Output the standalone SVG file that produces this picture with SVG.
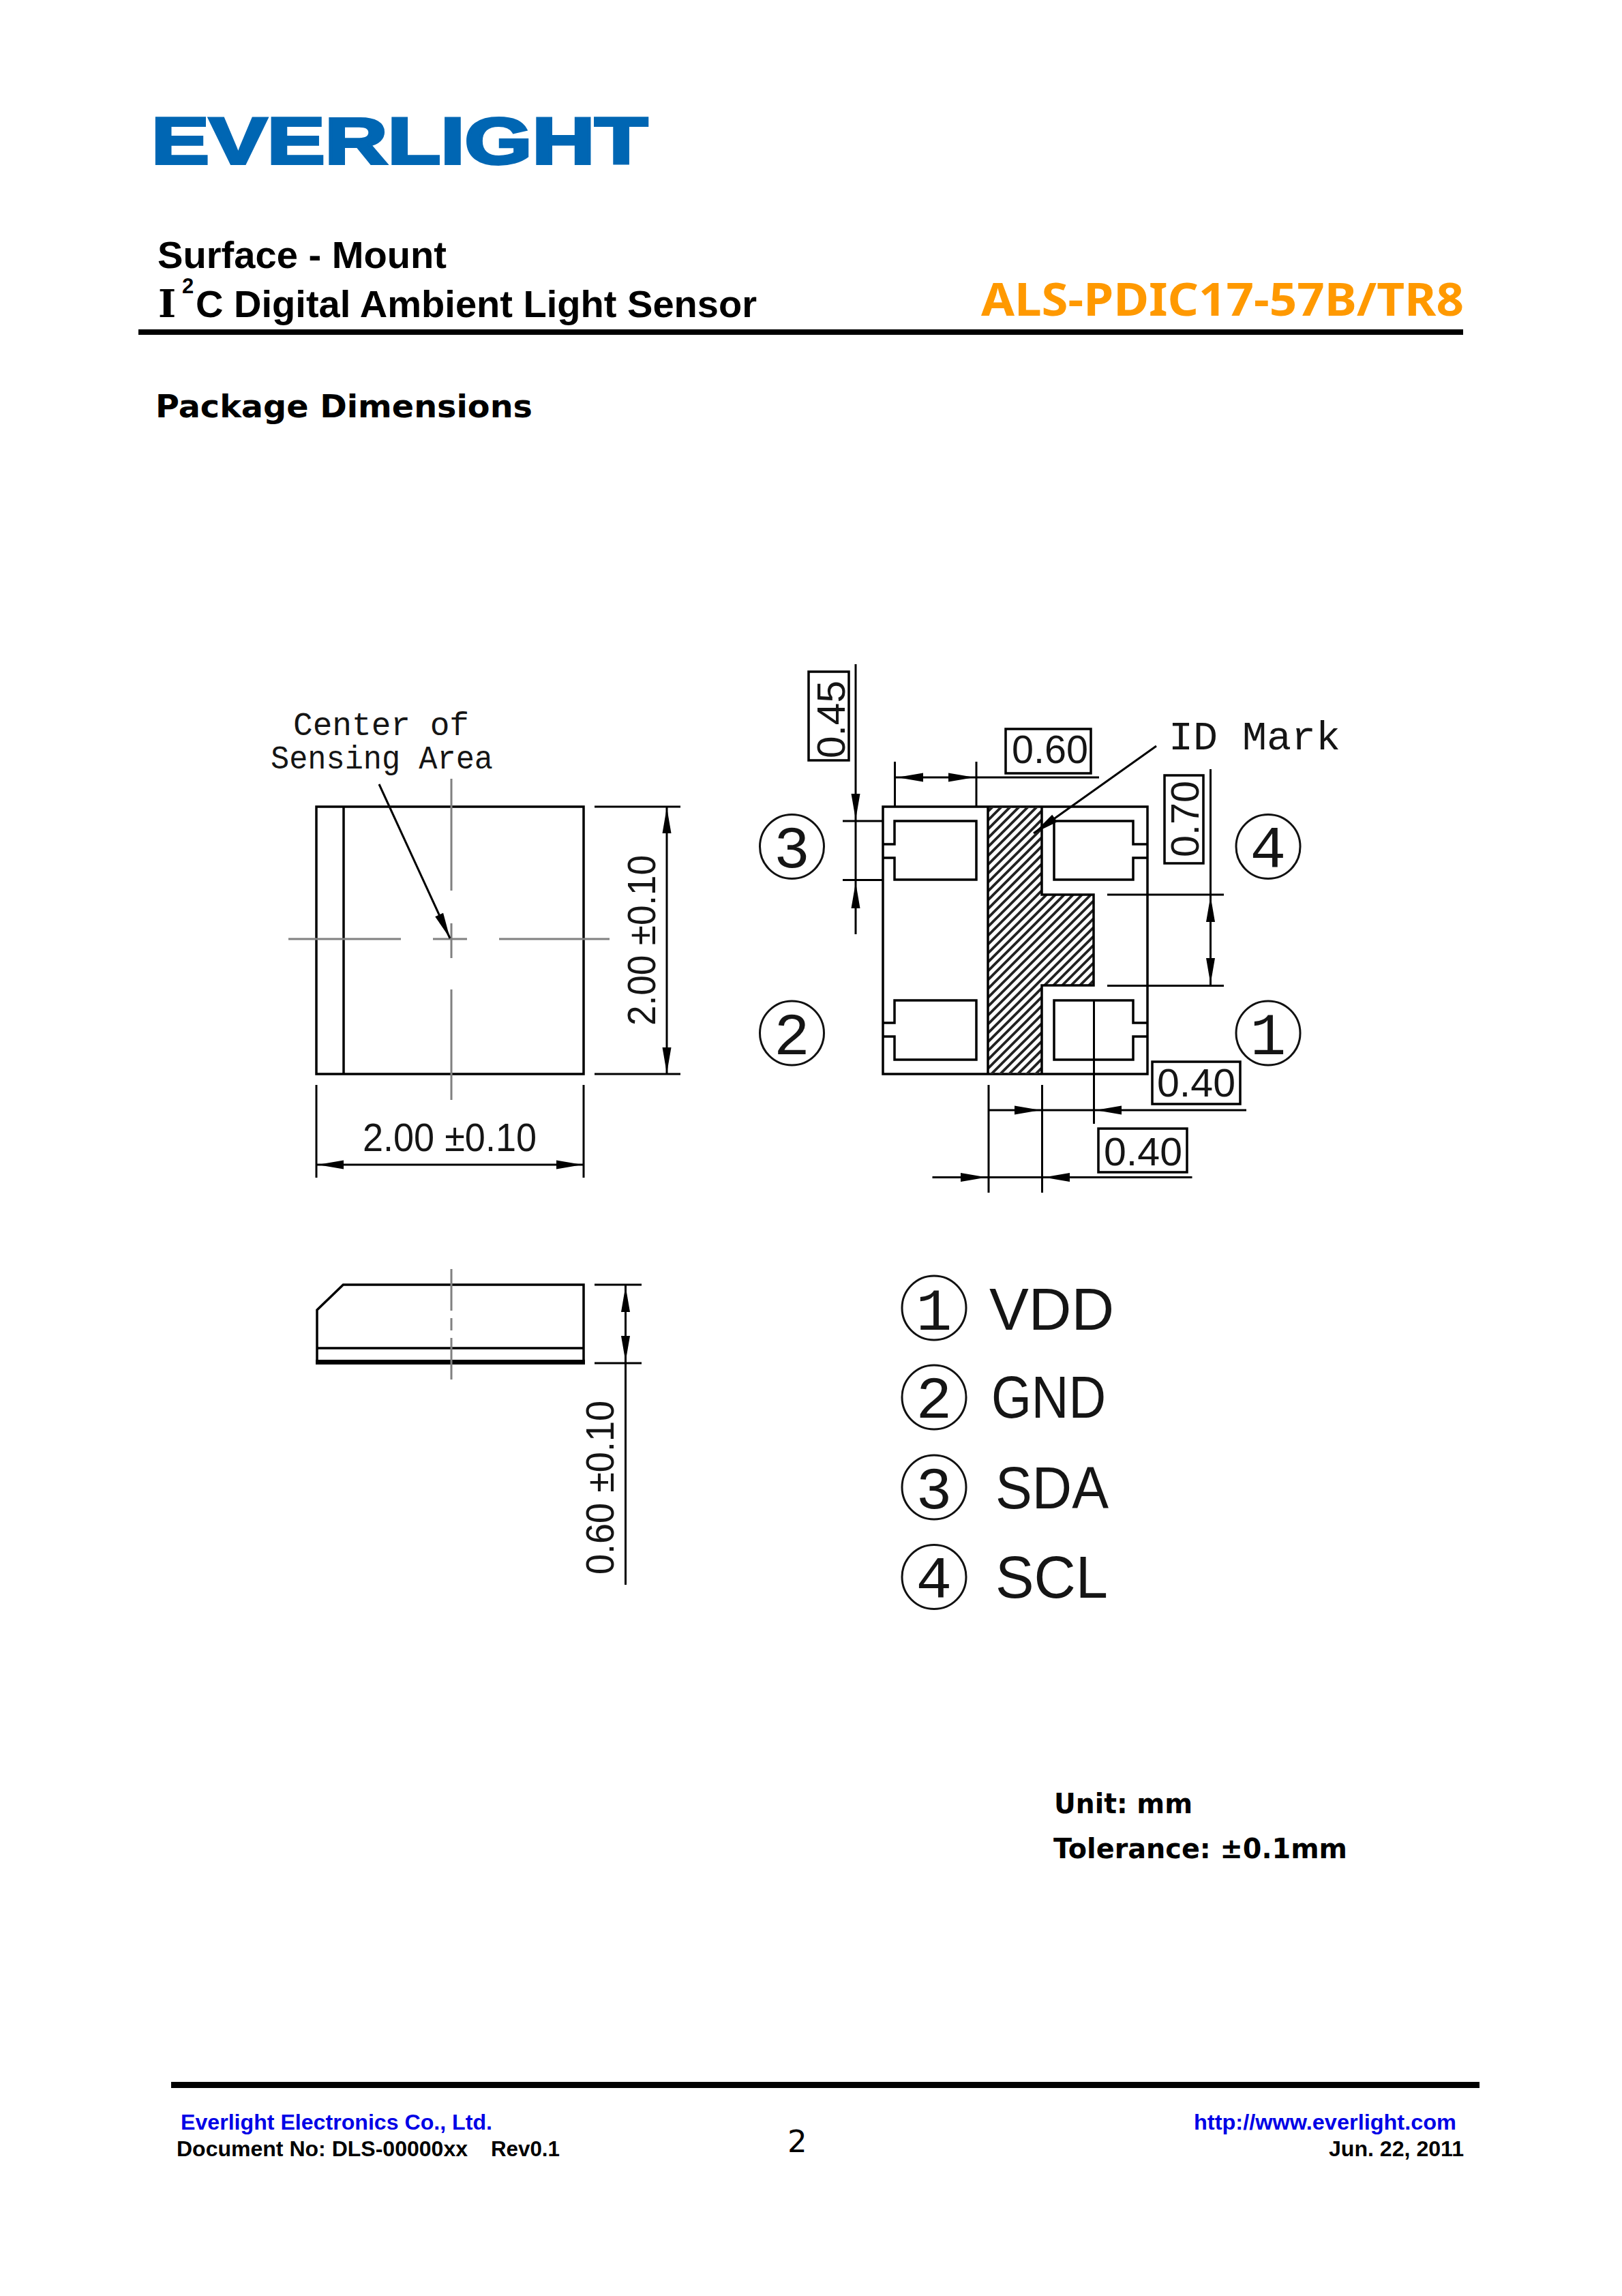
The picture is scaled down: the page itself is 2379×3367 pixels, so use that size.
<svg xmlns="http://www.w3.org/2000/svg" xmlns:xlink="http://www.w3.org/1999/xlink" width="2379" height="3367" viewBox="0 0 2379 3367">
<style>
.h{font-family:"Liberation Sans",Arial,sans-serif;font-weight:700;fill:#000}
.v{font-family:"DejaVu Sans",Verdana,sans-serif;font-weight:700;fill:#000}
.cad{font-family:"Liberation Mono","Courier New",monospace;fill:#151515}
.d{font-family:"Liberation Sans",Arial,sans-serif;font-size:58px;fill:#151515}
.l{font-family:"Liberation Sans",Arial,sans-serif;font-size:88px;fill:#151515}
.blue{fill:#0000e6}
.o{fill:none;stroke:#000;stroke-width:3.5}
.t{fill:none;stroke:#000;stroke-width:3}
.c{fill:none;stroke:#808080;stroke-width:3}
.ring{fill:#fff;stroke:#111;stroke-width:3}
.n{font-size:88px;text-anchor:middle}
.box{fill:#fff;stroke:#000;stroke-width:3.5}
</style>
<defs>
<polygon id="ah" points="0,0 -38,-6.5 -38,6.5" fill="#000"/>
<pattern id="hatch" patternUnits="userSpaceOnUse" width="13" height="13">
<path d="M-3,16 L16,-3 M-3,3 L3,-3 M10,16 L16,10" stroke="#222" stroke-width="3.8" fill="none"/>
</pattern>
</defs>
<rect width="2379" height="3367" fill="#fff"/>

<g id="header">
<text id="logo" x="222" y="240" font-family="Liberation Sans, Arial, sans-serif" font-weight="700" font-size="96" fill="#0066b3" stroke="#0066b3" stroke-width="4" textLength="728" lengthAdjust="spacingAndGlyphs">EVERLIGHT</text>
<text class="h" x="231" y="393" font-size="56" textLength="424" lengthAdjust="spacingAndGlyphs">Surface - Mount</text>
<text x="232" y="465" font-family="DejaVu Serif, serif" font-weight="700" font-size="56" fill="#000">I</text>
<text class="h" x="267" y="430" font-size="31">2</text>
<text class="h" x="287" y="465" font-size="56" textLength="823" lengthAdjust="spacingAndGlyphs">C Digital Ambient Light Sensor</text>
<text x="1439" y="463" font-family="Noto Sans, DejaVu Sans, sans-serif" font-weight="700" font-size="66" fill="#ff9900" textLength="708" lengthAdjust="spacingAndGlyphs">ALS-PDIC17-57B/TR8</text>
<rect x="203" y="483" width="1943" height="8" fill="#000"/>
<text class="v" x="228" y="612" font-size="47" textLength="553" lengthAdjust="spacingAndGlyphs">Package Dimensions</text>
</g>

<g id="top-view">
<rect class="o" x="464" y="1183" width="392" height="392"/>
<line class="o" x1="504" y1="1183" x2="504" y2="1575" stroke-width="4"/>
<path class="c" d="M662,1142V1306M662,1354V1405M662,1451V1613"/>
<path class="c" stroke-width="2.5" d="M423,1377H588M635,1377H685M732,1377H894"/>
<text class="cad" x="430" y="1078" font-size="48" textLength="258" lengthAdjust="spacingAndGlyphs">Center of</text>
<text class="cad" x="397" y="1127" font-size="48" textLength="326" lengthAdjust="spacingAndGlyphs">Sensing Area</text>
<text class="d" x="961" y="1504" transform="rotate(-90 961 1504)" textLength="250" lengthAdjust="spacingAndGlyphs">2.00 ±0.10</text>
<text class="d" x="532" y="1688" textLength="255" lengthAdjust="spacingAndGlyphs">2.00 ±0.10</text>
</g>

<g id="bottom-view">
<rect class="o" x="1295" y="1183" width="388" height="392"/>
<path d="M1449,1183H1528V1312H1604V1445H1528V1575H1449Z" fill="url(#hatch)"/>
<path class="o" d="M1528,1183V1312H1604V1445H1528V1575M1449,1183V1575"/>
<path class="o" d="M1295,1238H1312V1204H1432V1290H1312V1258H1295"/>
<path class="o" d="M1683,1238H1662V1204H1546V1290H1662V1258H1683"/>
<path class="o" d="M1295,1500H1312V1467H1432V1554H1312V1520H1295"/>
<path class="o" d="M1683,1500H1662V1467H1546V1554H1662V1520H1683"/>
<text class="cad" x="1714" y="1099" font-size="60" textLength="252" lengthAdjust="spacingAndGlyphs">ID Mark</text>
</g>

<g id="pin-3"><circle class="ring" cx="1161.5" cy="1241.5" r="47"/><text class="cad n" x="1161.5" y="1272">3</text></g>
<g id="pin-4"><circle class="ring" cx="1860" cy="1241.5" r="47"/><text class="cad n" x="1860" y="1272">4</text></g>
<g id="pin-2"><circle class="ring" cx="1161.5" cy="1515" r="47"/><text class="cad n" x="1161.5" y="1546">2</text></g>
<g id="pin-1"><circle class="ring" cx="1860" cy="1515" r="47"/><text class="cad n" x="1860" y="1546">1</text></g>

<g id="dim-045"><rect class="box" x="1186" y="985" width="59" height="130"/><text class="d" x="1239" y="1112" transform="rotate(-90 1239 1112)" textLength="114" lengthAdjust="spacingAndGlyphs">0.45</text></g>
<g id="dim-060"><rect class="box" x="1475" y="1069" width="125" height="65"/><text class="d" x="1484" y="1119" textLength="112" lengthAdjust="spacingAndGlyphs">0.60</text></g>
<g id="dim-070"><rect class="box" x="1708" y="1137" width="57" height="129"/><text class="d" x="1757.5" y="1257" transform="rotate(-90 1757.5 1257)" textLength="112" lengthAdjust="spacingAndGlyphs">0.70</text></g>
<g id="dim-040a"><rect class="box" x="1690" y="1557" width="129" height="62"/><text class="d" x="1697" y="1608" textLength="115" lengthAdjust="spacingAndGlyphs">0.40</text></g>
<g id="dim-040b"><rect class="box" x="1611" y="1655" width="130" height="64"/><text class="d" x="1619" y="1709" textLength="115" lengthAdjust="spacingAndGlyphs">0.40</text></g>

<g id="side-view">
<path class="o" d="M465,1977V1921L503.4,1884H856V1999H465V1977H856"/>
<rect x="463" y="1994" width="395" height="7" fill="#000"/>
<path class="c" stroke-width="3.5" d="M662,1861V1922M662,1933V1951M662,1962V2023"/>
<text class="d" x="900" y="2309" transform="rotate(-90 900 2309)" textLength="255" lengthAdjust="spacingAndGlyphs">0.60 ±0.10</text>
</g>

<g id="legend">
<g id="legend-1"><circle class="ring" cx="1370" cy="1918" r="47"/><text class="cad n" x="1370" y="1950">1</text><text class="l" x="1451" y="1950" textLength="183" lengthAdjust="spacingAndGlyphs">VDD</text></g>
<g id="legend-2"><circle class="ring" cx="1370" cy="2049" r="47"/><text class="cad n" x="1370" y="2079">2</text><text class="l" x="1454" y="2079" textLength="168" lengthAdjust="spacingAndGlyphs">GND</text></g>
<g id="legend-3"><circle class="ring" cx="1370" cy="2181" r="47"/><text class="cad n" x="1370" y="2212">3</text><text class="l" x="1460" y="2212" textLength="166" lengthAdjust="spacingAndGlyphs">SDA</text></g>
<g id="legend-4"><circle class="ring" cx="1370" cy="2312.5" r="47"/><text class="cad n" x="1370" y="2343">4</text><text class="l" x="1460" y="2343" textLength="165" lengthAdjust="spacingAndGlyphs">SCL</text></g>
</g>

<g id="connectors">
<path class="t" stroke-width="4" d="M556,1150L660,1376"/>
<use xlink:href="#ah" href="#ah" transform="translate(660,1376) rotate(65.3)"/>
<path class="t" d="M872,1183H998M872,1575H998M978,1183V1575"/>
<use xlink:href="#ah" href="#ah" transform="translate(978,1184) rotate(-90)"/>
<use xlink:href="#ah" href="#ah" transform="translate(978,1574) rotate(90)"/>
<path class="t" d="M464,1591V1727M856,1591V1727M464,1708H856"/>
<use xlink:href="#ah" href="#ah" transform="translate(466,1708) rotate(180)"/>
<use xlink:href="#ah" href="#ah" transform="translate(854,1708)"/>
<path class="t" d="M1255,974V1370M1236,1204H1295M1236,1290.5H1295"/>
<use xlink:href="#ah" href="#ah" transform="translate(1255,1202)  rotate(90)"/>
<use xlink:href="#ah" href="#ah" transform="translate(1255,1294) rotate(-90)"/>
<path class="t" d="M1312.5,1117V1183M1432,1117V1183M1312.5,1140H1612"/>
<use xlink:href="#ah" href="#ah" transform="translate(1316,1140) rotate(180)"/>
<use xlink:href="#ah" href="#ah" transform="translate(1429,1140)"/>
<path class="t" d="M1696,1094L1516,1222"/>
<use xlink:href="#ah" href="#ah" transform="translate(1516,1222) rotate(144.6)"/>
<path class="t" d="M1775.5,1128V1445.5M1624,1312H1795M1624,1445.5H1795"/>
<use xlink:href="#ah" href="#ah" transform="translate(1775.5,1314) rotate(-90)"/>
<use xlink:href="#ah" href="#ah" transform="translate(1775.5,1443) rotate(90)"/>
<path class="t" d="M1450,1591V1749M1528.5,1591V1749M1604.5,1467V1648M1450,1628H1828M1367.5,1726.5H1748.5"/>
<use xlink:href="#ah" href="#ah" transform="translate(1526,1628)"/>
<use xlink:href="#ah" href="#ah" transform="translate(1607,1628) rotate(180)"/>
<use xlink:href="#ah" href="#ah" transform="translate(1447,1726.5)"/>
<use xlink:href="#ah" href="#ah" transform="translate(1531,1726.5) rotate(180)"/>
<path class="t" d="M872,1884H941M872,1999H941M917.5,1884V2324"/>
<use xlink:href="#ah" href="#ah" transform="translate(917.5,1886) rotate(-90)"/>
<use xlink:href="#ah" href="#ah" transform="translate(917.5,1997) rotate(90)"/>
</g>

<g id="notes">
<text class="v" x="1546" y="2659" font-size="41" textLength="203" lengthAdjust="spacingAndGlyphs">Unit: mm</text>
<text class="v" x="1545" y="2725" font-size="41" textLength="431" lengthAdjust="spacingAndGlyphs">Tolerance: ±0.1mm</text>
</g>

<g id="footer">
<rect x="251" y="3053" width="1919" height="9" fill="#000"/>
<text class="h blue" x="265" y="3123" font-size="31" textLength="457" lengthAdjust="spacingAndGlyphs">Everlight Electronics Co., Ltd.</text>
<text class="h" x="259" y="3162" font-size="31" textLength="427" lengthAdjust="spacingAndGlyphs">Document No: DLS-00000xx</text>
<text class="h" x="720" y="3162" font-size="31" textLength="101" lengthAdjust="spacingAndGlyphs">Rev0.1</text>
<text x="1155" y="3156" font-family="DejaVu Sans, sans-serif" font-size="45" fill="#000">2</text>
<text class="h blue" x="1751" y="3123" font-size="31" textLength="385" lengthAdjust="spacingAndGlyphs">http://www.everlight.com</text>
<text class="h" x="1949" y="3162" font-size="31" textLength="198" lengthAdjust="spacingAndGlyphs">Jun. 22, 2011</text>
</g>
</svg>
